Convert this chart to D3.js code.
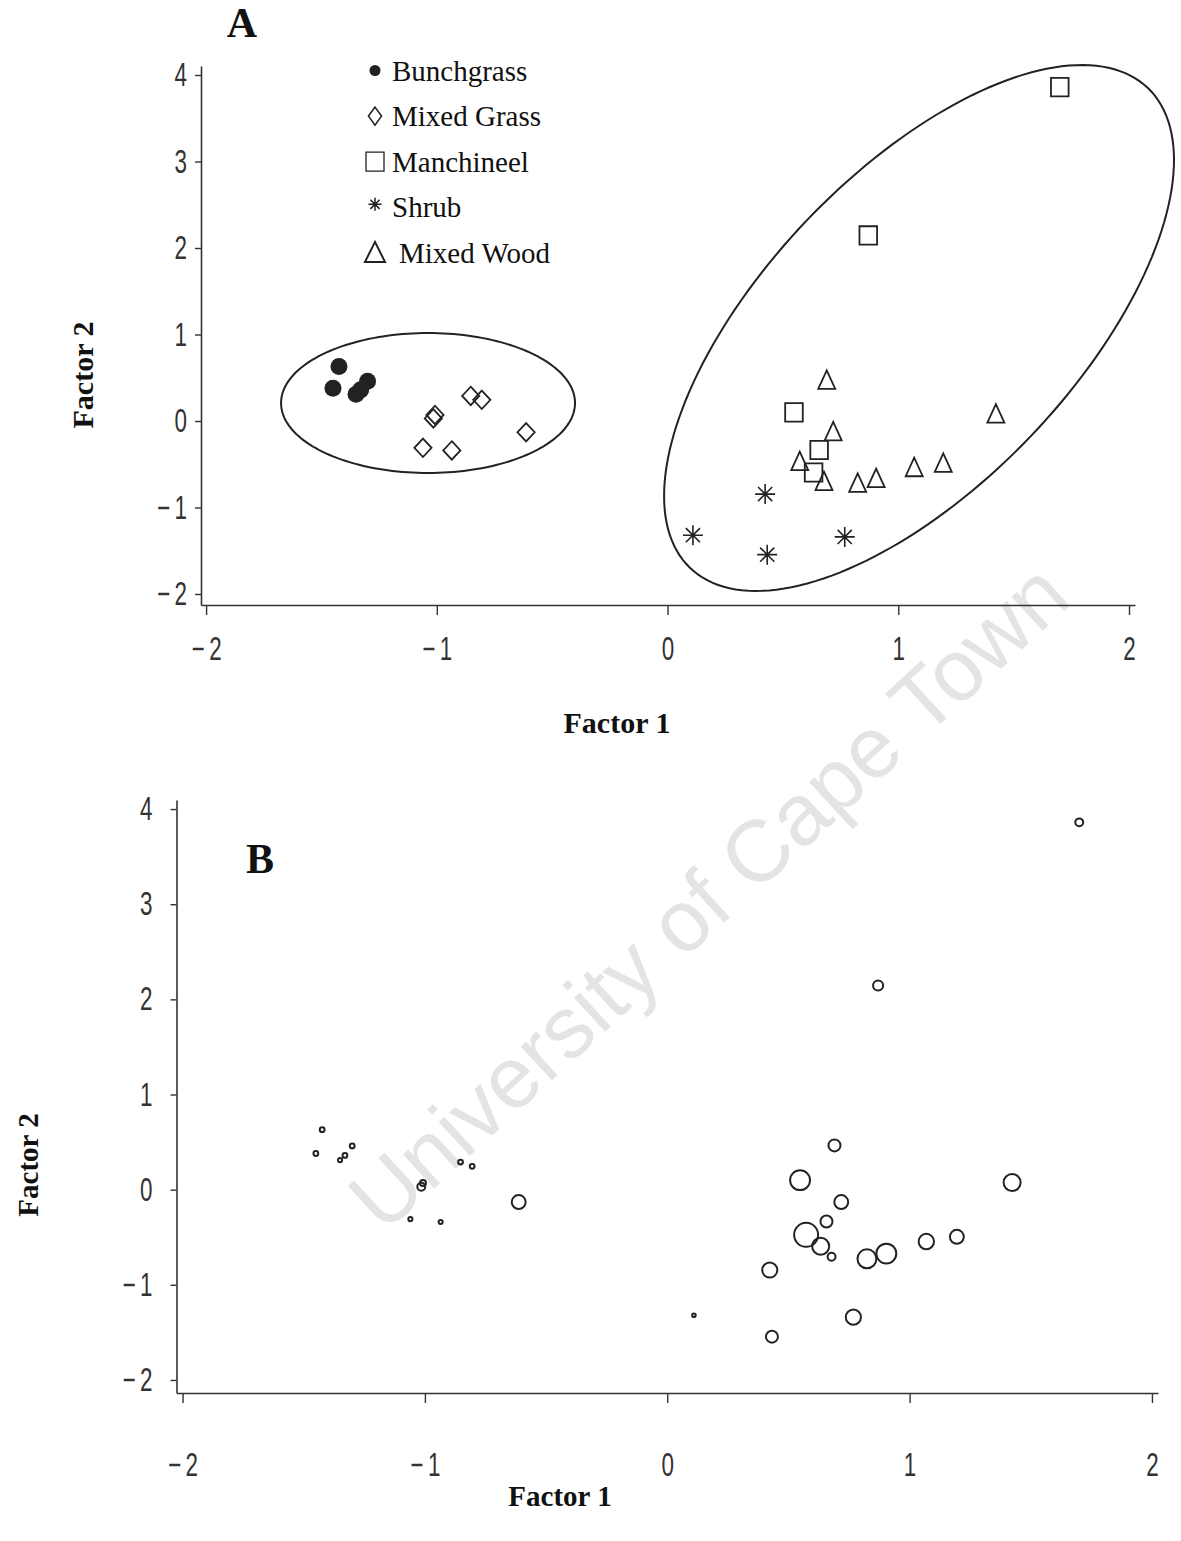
<!DOCTYPE html>
<html lang="en">
<head>
<meta charset="UTF-8">
<title>Factor scores by vegetation type</title>
<script src="https://d3js.org/d3.v7.min.js"></script>
<style>
  body { margin: 0; background: #fff; }
  .tick text { font-family: "Liberation Sans", "DejaVu Sans", sans-serif; font-size: 33px; fill: #333; }
  .axis-title { font-family: "Liberation Serif", "Times New Roman", serif; font-weight: bold; font-size: 30px; fill: #111; }
  .panel-letter { font-family: "Liberation Serif", "Times New Roman", serif; font-weight: bold; font-size: 42px; fill: #111; }
  .legend text { font-family: "Liberation Serif", "Times New Roman", serif; font-size: 29px; fill: #111; }
  .watermark { font-family: "Liberation Sans", Arial, sans-serif; font-size: 87px; fill: #e4e4e4; }
</style>
</head>
<body>
<div id="chart"></div>
<script>
// tick values
const xTicks = [-2, -1, 0, 1, 2];
const yTicks = [-2, -1, 0, 1, 2, 3, 4];

const groups = ["Bunchgrass", "Mixed Grass", "Manchineel", "Shrub", "Mixed Wood"];

// factor scores (F1, F2) and relative bubble value for panel B
const bunchgrassF1 = [-1.424, -1.45, -1.35, -1.33, -1.30];
const bunchgrassF2 = [0.63, 0.38, 0.31, 0.36, 0.46];
const bunchgrassB  = [0.2, 0.2, 0.17, 0.2, 0.2];

const mixedGrassF1 = [-0.853, -0.805, -1.015, -1.008, -1.06, -0.935, -0.613];
const mixedGrassF2 = [0.29, 0.245, 0.03, 0.07, -0.31, -0.34, -0.13];
const mixedGrassB  = [0.2, 0.2, 0.33, 0.25, 0.17, 0.17, 0.58];

const manchineelF1 = [1.70, 0.87, 0.548, 0.657, 0.633];
const manchineelF2 = [3.86, 2.145, 0.10, -0.335, -0.595];
const manchineelB  = [0.33, 0.42, 0.83, 0.5, 0.71];

const shrubF1 = [0.423, 0.11, 0.432, 0.768];
const shrubF2 = [-0.845, -1.32, -1.545, -1.34];
const shrubB  = [0.63, 0.15, 0.5, 0.63];

const mixedWoodF1 = [0.69, 0.718, 0.573, 0.678, 0.824, 0.904, 1.069, 1.195, 1.423];
const mixedWoodF2 = [0.465, -0.13, -0.475, -0.705, -0.727, -0.672, -0.545, -0.495, 0.075];
const mixedWoodB  = [0.5, 0.58, 1.0, 0.33, 0.79, 0.83, 0.64, 0.58, 0.71];

// group ellipses (centre, spread, correlation) in factor units
const ellipseCx  = [-1.038, 1.090];
const ellipseCy  = [0.208, 1.075];
const ellipseSdX = [0.637, 1.105];
const ellipseSdY = [0.809, 3.040];
const ellipseR   = [0, 0.639];

const W = 1181, H = 1541;
const svg = d3.select("#chart").append("svg").attr("width", W).attr("height", H);

// watermark
svg.append("text").attr("class", "watermark")
  .attr("transform", "translate(708,896) rotate(-42.5)")
  .attr("text-anchor", "middle").attr("dominant-baseline", "central")
  .text("University of Cape Town");

const seriesF1 = [bunchgrassF1, mixedGrassF1, manchineelF1, shrubF1, mixedWoodF1];
const seriesF2 = [bunchgrassF2, mixedGrassF2, manchineelF2, shrubF2, mixedWoodF2];
const seriesB  = [bunchgrassB, mixedGrassB, manchineelB, shrubB, mixedWoodB];

const points = [];
groups.forEach((g, gi) => {
  seriesF1[gi].forEach((v, i) => points.push({ group: g, gi: gi, f1: v, f2: seriesF2[gi][i], b: seriesB[gi][i] }));
});

const fmt = d => d < 0 ? "\u2212\u2009" + Math.abs(d) : String(d);

// squeeze tick labels horizontally to get the tall narrow look
function narrow(axisG) {
  axisG.selectAll(".tick text").each(function () {
    const t = d3.select(this);
    const x = +t.attr("x") || 0;
    t.attr("x", 0).attr("transform", `translate(${x},0) scale(0.68,1)`);
  });
}

function drawAxes(g, x, y, opt) {
  const xa = g.append("g").attr("transform", `translate(0,${y.range()[0]})`)
    .call(d3.axisBottom(x).tickValues(xTicks).tickSize(10).tickSizeOuter(0).tickPadding(opt.xPad).tickFormat(fmt));
  const ya = g.append("g").attr("transform", `translate(${x.range()[0]},0)`)
    .call(d3.axisLeft(y).tickValues(yTicks).tickSize(6).tickSizeOuter(0).tickPadding(opt.yPad).tickFormat(fmt));
  [xa, ya].forEach(a => {
    a.select(".domain").attr("stroke", "#333").attr("stroke-width", 1.6);
    a.selectAll(".tick line").attr("stroke", "#333").attr("stroke-width", 1.4);
    narrow(a);
  });
}

// symbol paths
const sym = {
  circle: r => `M${r},0A${r},${r} 0 1,1 ${-r},0A${r},${r} 0 1,1 ${r},0Z`,
  diamond: (w, h) => `M0,${-h}L${w},0L0,${h}L${-w},0Z`,
  square: (w, h) => `M${-w},${-h}H${w}V${h}H${-w}Z`,
  triangle: (w, h) => `M0,${-h * 1.1}L${w},${h * 0.85}L${-w},${h * 0.85}Z`,
  star: r => d3.range(4).map(k => {
    const a = k * Math.PI / 4, dx = r * Math.sin(a), dy = r * Math.cos(a);
    return `M${-dx},${-dy}L${dx},${dy}`;
  }).join("")
};

function markerA(sel, gi) {
  if (gi === 0) sel.append("path").attr("d", sym.circle(8.5)).attr("fill", "#222");
  if (gi === 1) sel.append("path").attr("d", sym.diamond(8.6, 9.2)).attr("fill", "none").attr("stroke", "#222").attr("stroke-width", 1.8);
  if (gi === 2) sel.append("path").attr("d", sym.square(8.8, 9.2)).attr("fill", "none").attr("stroke", "#222").attr("stroke-width", 1.8);
  if (gi === 3) sel.append("path").attr("d", sym.star(10)).attr("fill", "none").attr("stroke", "#222").attr("stroke-width", 1.6);
  if (gi === 4) sel.append("path").attr("d", sym.triangle(8.5, 9.5)).attr("fill", "none").attr("stroke", "#222").attr("stroke-width", 1.8);
}

// ---------- Panel A ----------
const xA = d3.scaleLinear().domain([-2.022, 2.026]).range([201, 1135]);
const yA = d3.scaleLinear().domain([-2.127, 4.104]).range([605, 66]);
const gA = svg.append("g");
drawAxes(gA, xA, yA, { xPad: 22, yPad: 8 });

// ellipses
const line = d3.line().x(p => xA(p[0])).y(p => yA(p[1])).curve(d3.curveLinearClosed);
ellipseCx.forEach((cx, i) => {
  const pts = d3.range(0, 2 * Math.PI, Math.PI / 90).map(t => [
    cx + ellipseSdX[i] * Math.cos(t),
    ellipseCy[i] + ellipseSdY[i] * (ellipseR[i] * Math.cos(t) + Math.sqrt(1 - ellipseR[i] ** 2) * Math.sin(t))
  ]);
  gA.append("path").attr("d", line(pts)).attr("fill", "none").attr("stroke", "#222").attr("stroke-width", 2);
});

gA.selectAll("g.pt").data(points).join("g").attr("class", "pt")
  .attr("transform", d => `translate(${xA(d.f1)},${yA(d.f2)})`)
  .each(function (d) { markerA(d3.select(this), d.gi); });

gA.append("text").attr("class", "panel-letter").attr("x", 242).attr("y", 37).attr("text-anchor", "middle").text("A");
gA.append("text").attr("class", "axis-title").attr("x", 617).attr("y", 733).attr("text-anchor", "middle").text("Factor 1");
gA.append("text").attr("class", "axis-title").attr("transform", "translate(93,375) rotate(-90)").attr("text-anchor", "middle").text("Factor 2");

// legend
const legend = gA.append("g").attr("class", "legend");
groups.forEach((g, i) => {
  const row = legend.append("g").attr("transform", `translate(0,${80.5 + i * 45.6})`);
  const m = row.append("g").attr("transform", `translate(375,${i === 3 ? -13 : -10})`);
  if (i === 0) m.append("path").attr("d", sym.circle(5.5)).attr("fill", "#222");
  if (i === 1) m.append("path").attr("d", sym.diamond(6.5, 9)).attr("fill", "none").attr("stroke", "#222").attr("stroke-width", 1.6);
  if (i === 2) m.append("path").attr("d", sym.square(9, 9.5)).attr("fill", "none").attr("stroke", "#222").attr("stroke-width", 1.3);
  if (i === 3) m.append("path").attr("d", sym.star(6.5)).attr("fill", "none").attr("stroke", "#222").attr("stroke-width", 1.5);
  if (i === 4) m.append("path").attr("d", "M0,-11L10,9L-10,9Z").attr("fill", "none").attr("stroke", "#222").attr("stroke-width", 2);
  row.append("text").attr("x", i === 4 ? 399 : 392).attr("y", 0).text(g);
});

// ---------- Panel B ----------
const xB = d3.scaleLinear().domain([-2.025, 2.025]).range([176.5, 1158]);
const yB = d3.scaleLinear().domain([-2.137, 4.095]).range([1393, 800]);
const rB = d3.scaleLinear().domain([0, 1]).range([0, 12]);
const gB = svg.append("g");
drawAxes(gB, xB, yB, { xPad: 50, yPad: 18 });

gB.selectAll("circle.pt").data(points).join("circle").attr("class", "pt")
  .attr("cx", d => xB(d.f1)).attr("cy", d => yB(d.f2)).attr("r", d => rB(d.b))
  .attr("fill", "none").attr("stroke", "#222").attr("stroke-width", 2);

gB.append("text").attr("class", "panel-letter").attr("x", 260).attr("y", 873).attr("text-anchor", "middle").text("B");
gB.append("text").attr("class", "axis-title").attr("x", 560).attr("y", 1506).attr("text-anchor", "middle").style("font-size", "29px").text("Factor 1");
gB.append("text").attr("class", "axis-title").attr("transform", "translate(38,1165) rotate(-90)").attr("text-anchor", "middle").style("font-size", "29px").text("Factor 2");
</script>
</body>
</html>
